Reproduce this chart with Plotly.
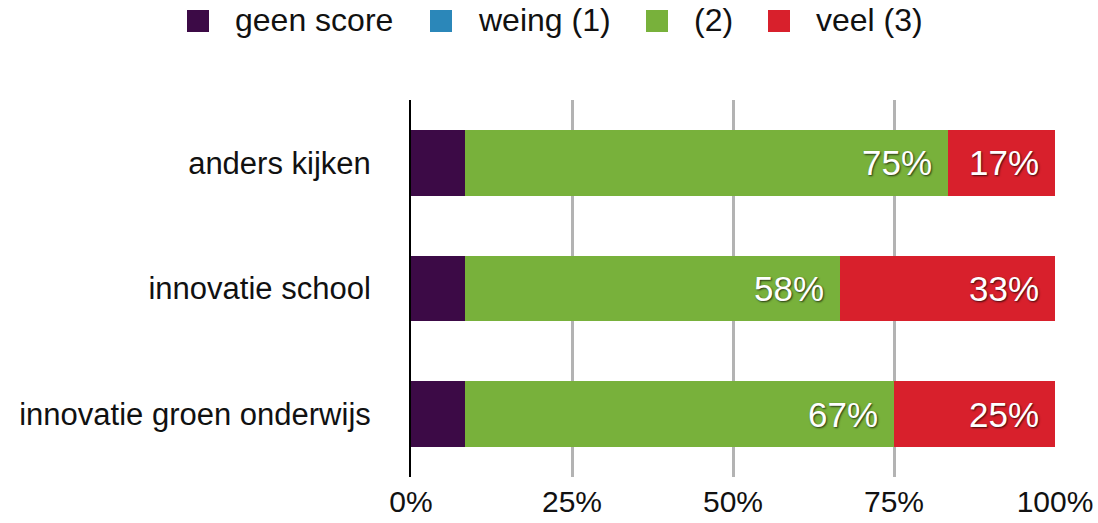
import plotly.graph_objects as go

categories = ["anders kijken", "innovatie school", "innovatie groen onderwijs"]
series_names = ["geen score", "weing (1)", "(2)", "veel (3)"]
geen_score = [8.33, 8.33, 8.33]
weing_1 = [0, 0, 0]
score_2 = [75.0, 58.33, 66.67]
veel_3 = [16.67, 33.33, 25.0]
series_values = [geen_score, weing_1, score_2, veel_3]
colors = ["#3c0a46", "#2b87b9", "#78b13b", "#d8202c"]
show_labels = [False, False, True, True]
x_tickvals = [0, 25, 50, 75, 100]
x_ticktext = ["0%", "25%", "50%", "75%", "100%"]

FONT = "Liberation Sans, Arial, Helvetica, sans-serif"

fig = go.Figure()
for name, vals, col in zip(series_names, series_values, colors):
    fig.add_trace(go.Bar(
        y=categories, x=vals, name=name, orientation="h",
        marker=dict(color=col, line=dict(width=0)),
        showlegend=False, hoverinfo="skip",
    ))

# value labels at the inside end of segments
annotations = []
for i, cat in enumerate(categories):
    cum = 0
    for vals, show in zip(series_values, show_labels):
        cum += vals[i]
        if show and vals[i] > 0:
            annotations.append(dict(
                x=cum, y=cat, xref="x", yref="y", text=f"{vals[i]:.0f}%",
                showarrow=False, xanchor="right", yanchor="middle", xshift=-14,
                font=dict(family=FONT, size=35, color="white",
                          shadow="1px 1px 2px rgba(0,0,0,0.7)"),
            ))

# custom legend (large square markers)
legend_marker_px = [187, 430, 646, 768]
shapes = []
for name, col, px in zip(series_names, colors, legend_marker_px):
    shapes.append(dict(type="rect", xref="paper", yref="paper",
                       x0=(px - 411) / 644, x1=(px + 22 - 411) / 644,
                       y0=(477 - 32) / 377, y1=(477 - 10) / 377,
                       fillcolor=col, line=dict(width=0)))
    annotations.append(dict(x=(px + 46 - 411) / 644, y=(477 - 20) / 377,
                            xref="paper", yref="paper", text=name, showarrow=False,
                            xanchor="left", yanchor="middle",
                            font=dict(family=FONT, size=32, color="#111")))

fig.update_layout(
    barmode="stack",
    bargap=0.48,
    width=1098, height=523,
    margin=dict(l=411, r=43, t=100, b=46, autoexpand=False),
    paper_bgcolor="white", plot_bgcolor="white",
    font=dict(family=FONT, size=31, color="#111"),
    showlegend=False,
    annotations=annotations,
    shapes=shapes,
    xaxis=dict(range=[0, 100], tickvals=x_tickvals, ticktext=x_ticktext,
               showgrid=True, gridcolor="#b3b3b3", gridwidth=3,
               zeroline=False, showline=False, ticks="",
               tickfont=dict(size=30),
               ticklabelstandoff=4, fixedrange=True, automargin=False),
    yaxis=dict(autorange="reversed", showgrid=False, showline=True,
               linecolor="black", linewidth=2, ticks="",
               ticklabelstandoff=32, fixedrange=True, automargin=False),
)

fig.write_html("out.html")
